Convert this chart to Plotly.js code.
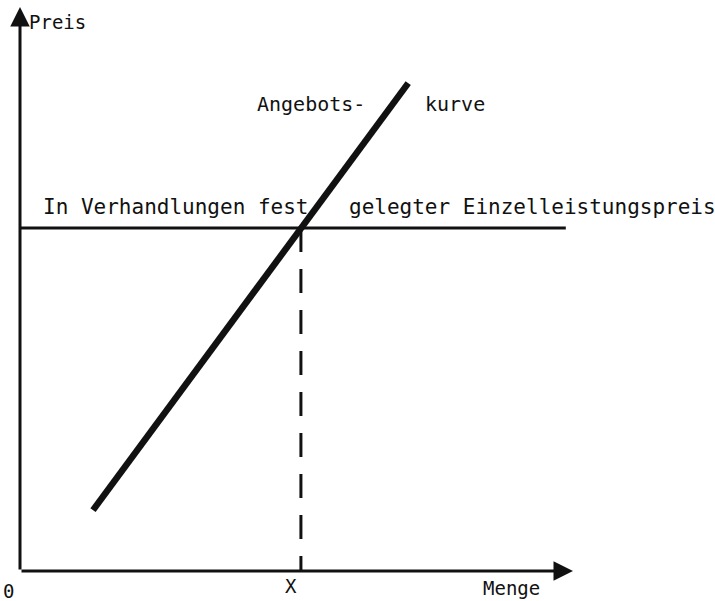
<!DOCTYPE html>
<html>
<head>
<meta charset="utf-8">
<script src="https://cdn.plot.ly/plotly-3.0.1.min.js"></script>
<style>html,body{margin:0;padding:0;background:#fff;}#chart{width:715px;height:601px;}</style>
</head>
<body>
<div id="chart"></div>
<script>
// Data (economic units)
const supplyQuantity = [1.32, 7.02];
const supplyPrice = [1.08, 8.65];
const fixedPrice = 6.08;
const priceLineEnd = 9.87;
const equilibriumQuantity = 5.08;
const axisMax = 10;
const labelPrice = "Preis";
const labelQuantity = "Menge";
const labelX = "X";
const labelOrigin = "0";
const labelSupply = ["Angebots-", "kurve"];
const labelFixed = ["In Verhandlungen fest", "gelegter Einzelleistungspreis"];

const ink = "#111";
const fontFam = "DejaVu Sans Mono, monospace";

const traces = [
  { // negotiated price line
    x: [0, priceLineEnd], y: [fixedPrice, fixedPrice],
    mode: "lines", line: {color: ink, width: 3}, hoverinfo: "skip"
  },
  { // dashed drop line
    x: [equilibriumQuantity, equilibriumQuantity], y: [fixedPrice, 0],
    mode: "lines", line: {color: ink, width: 3, dash: "24px,17px"}, hoverinfo: "skip"
  },
  { // supply curve
    x: supplyQuantity, y: supplyPrice,
    mode: "lines", line: {color: ink, width: 6.5}, hoverinfo: "skip"
  }
];

function txt(text, x, y, size, xanchor, xref, yref) {
  return {text: text, x: x, y: y, xref: xref || "x", yref: yref || "y", showarrow: false,
    xanchor: xanchor || "left", yanchor: "middle",
    font: {family: fontFam, size: size, color: ink}};
}

const layout = {
  width: 715, height: 601,
  margin: {l: 20, r: 142, t: 7, b: 30},
  paper_bgcolor: "#fff", plot_bgcolor: "#fff",
  showlegend: false,
  xaxis: {range: [0, axisMax], showgrid: false, zeroline: false, showticklabels: false, ticks: "", showline: false, fixedrange: true},
  yaxis: {range: [0, axisMax], showgrid: false, zeroline: false, showticklabels: false, ticks: "", showline: false, fixedrange: true},
  annotations: [
    // axes with arrowheads
    {x: axisMax, y: 0, ax: 0, ay: 0, xref: "x", yref: "y", axref: "x", ayref: "y", text: "",
     showarrow: true, arrowhead: 2, arrowsize: 1.3, arrowwidth: 3, arrowcolor: ink},
    {x: 0, y: axisMax, ax: 0, ay: 0, xref: "x", yref: "y", axref: "x", ayref: "y", text: "",
     showarrow: true, arrowhead: 2, arrowsize: 1.3, arrowwidth: 3, arrowcolor: ink},
    txt(labelPrice, 0.127, 9.73, 19),
    txt(labelSupply[0], 4.25, 8.28, 20),
    txt(labelSupply[1], 7.28, 8.28, 20),
    txt(labelFixed[0], 0.38, 6.45, 21),
    txt(labelFixed[1], 5.91, 6.45, 21),
    txt(labelOrigin, -0.021, -0.036, 19, "center", "paper", "paper"),
    txt(labelX, equilibriumQuantity - 0.18, -0.027, 19, "center", "x", "paper"),
    txt(labelQuantity, 8.34, -0.031, 19, "left", "x", "paper")
  ]
};

Plotly.newPlot("chart", traces, layout, {displayModeBar: false, staticPlot: true});
</script>
</body>
</html>
